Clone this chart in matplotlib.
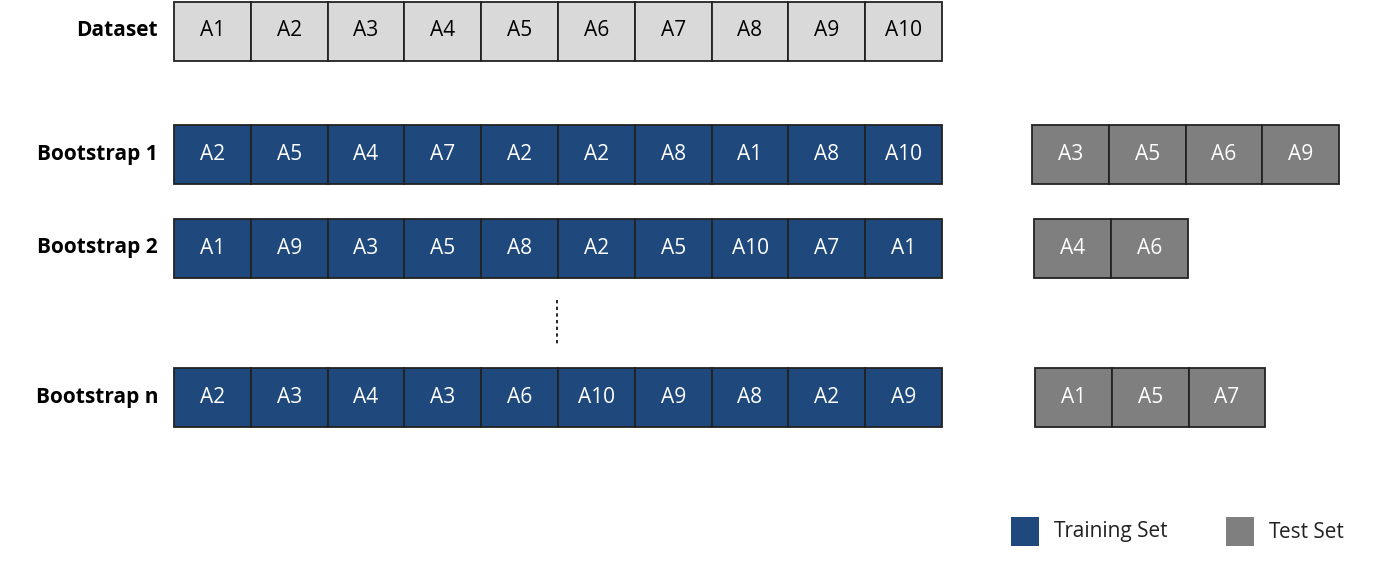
import matplotlib
matplotlib.use("Agg")
import matplotlib.pyplot as plt
from matplotlib.patches import Rectangle

# data
dataset = ["A1", "A2", "A3", "A4", "A5", "A6", "A7", "A8", "A9", "A10"]
row_labels = ["Bootstrap 1", "Bootstrap 2", "Bootstrap n"]
train_sets = [
    ["A2", "A5", "A4", "A7", "A2", "A2", "A8", "A1", "A8", "A10"],
    ["A1", "A9", "A3", "A5", "A8", "A2", "A5", "A10", "A7", "A1"],
    ["A2", "A3", "A4", "A3", "A6", "A10", "A9", "A8", "A2", "A9"],
]
test_sets = [
    ["A3", "A5", "A6", "A9"],
    ["A4", "A6"],
    ["A1", "A5", "A7"],
]
legend_labels = ["Training Set", "Test Set"]

BLUE = "#1F497D"
GRAY = "#7F7F7F"
LIGHT = "#D9D9D9"
FONT = "Open Sans"

# layout in pixels
W, H = 1377, 567
CELL_W = 76.8
CELL_H = 59
TRAIN_X0 = 174
TEST_X0 = [1032, 1034, 1035]
ROW_Y = [125, 218.5, 368]
DATA_Y = 1.5

fig = plt.figure(figsize=(W / 100, H / 100), dpi=100)
ax = fig.add_axes([0, 0, 1, 1])
ax.set_xlim(0, W)
ax.set_ylim(H, 0)
ax.axis("off")


def draw_row(x0, y0, items, face, txt_color):
    for i, lab in enumerate(items):
        x = x0 + i * CELL_W
        ax.add_patch(Rectangle((x, y0), CELL_W, CELL_H, facecolor=face,
                               edgecolor="#222222", linewidth=1.3))
        ax.text(x + CELL_W / 2, y0 + CELL_H / 2, lab, ha="center",
                va="center", color=txt_color, fontsize=15, family=FONT)


draw_row(TRAIN_X0, DATA_Y, dataset, LIGHT, "black")
ax.text(158, DATA_Y + CELL_H / 2, "Dataset", ha="right", va="center",
        fontsize=15, fontweight="bold", family=FONT)

for r, lab in enumerate(row_labels):
    draw_row(TRAIN_X0, ROW_Y[r], train_sets[r], BLUE, "white")
    draw_row(TEST_X0[r], ROW_Y[r], test_sets[r], GRAY, "white")
    ax.text(158, ROW_Y[r] + CELL_H / 2, lab, ha="right", va="center",
            fontsize=15, fontweight="bold", family=FONT)

# ellipsis marker between bootstrap 2 and n
ax.plot([557, 557], [300, 346], color="black", linestyle=(0, (2, 2)),
        linewidth=1.2)

# legend
for (x, face), lab in zip([(1011, BLUE), (1226, GRAY)], legend_labels):
    ax.add_patch(Rectangle((x, 517), 28, 29, facecolor=face,
                           edgecolor="none"))
    ax.text(x + 43, 532, lab, ha="left", va="center", fontsize=15,
            family=FONT, color="#222222")

fig.savefig("out.png", dpi=100, facecolor="white")
